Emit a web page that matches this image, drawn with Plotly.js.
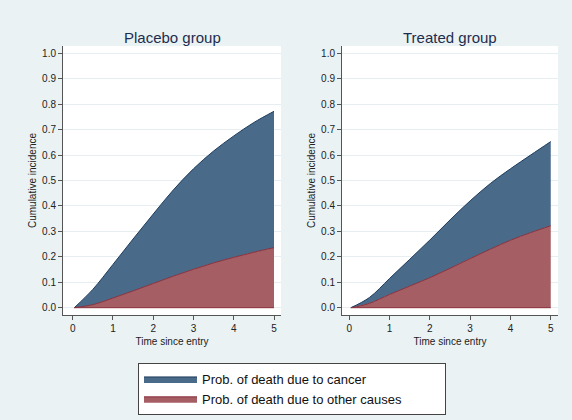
<!DOCTYPE html>
<html>
<head>
<meta charset="utf-8">
<script src="https://cdn.plot.ly/plotly-3.0.1.min.js"></script>
<style>html,body{margin:0;padding:0;background:#eaf2f3;}#chart{width:572px;height:420px;}</style>
</head>
<body>
<div id="chart"></div>
<script>
// Time since entry (years)
const time = [0.04, 0.5, 1, 1.5, 2, 2.5, 3, 3.5, 4, 4.5, 5];

// Placebo group: cumulative incidence of death from other causes, and of death from any cause (cancer stacked on top)
const placeboOther = [0, 0.012, 0.038, 0.066, 0.095, 0.124, 0.151, 0.176, 0.198, 0.218, 0.236];
const placeboTotal = [0, 0.072, 0.17, 0.27, 0.368, 0.463, 0.546, 0.616, 0.675, 0.728, 0.772];

// Treated group
const treatedOther = [0, 0.017, 0.052, 0.085, 0.118, 0.155, 0.193, 0.23, 0.265, 0.295, 0.322];
const treatedTotal = [0, 0.04, 0.115, 0.19, 0.266, 0.345, 0.42, 0.488, 0.546, 0.6, 0.653];

const panelTitles = ["Placebo group", "Treated group"];
const seriesNames = ["Prob. of death due to cancer", "Prob. of death due to other causes"];
const xTitle = "Time since entry";
const yTitle = "Cumulative incidence";
const xTicks = [0, 1, 2, 3, 4, 5];
const yTicks = [0, 0.1, 0.2, 0.3, 0.4, 0.5, 0.6, 0.7, 0.8, 0.9, 1.0];

const blueFill = "#4a6a8a", blueLine = "#1f3d5e";
const redFill = "#a55e64", redLine = "#8a2f3a";
const font = "Liberation Sans, Arial, sans-serif";

function panel(other, total, xa, ya, show) {
  return [
    {x: time, y: other, xaxis: xa, yaxis: ya, type: "scatter", mode: "lines",
     line: {color: redLine, width: 1, shape: "spline", smoothing: 1},
     fill: "tozeroy", fillcolor: redFill, name: seriesNames[1], showlegend: show, legendrank: 2, hoverinfo: "skip"},
    {x: time, y: total, xaxis: xa, yaxis: ya, type: "scatter", mode: "lines",
     line: {color: blueLine, width: 1, shape: "spline", smoothing: 1},
     fill: "tonexty", fillcolor: blueFill, name: seriesNames[0], showlegend: show, legendrank: 1, hoverinfo: "skip"}
  ];
}

const data = [].concat(panel(placeboOther, placeboTotal, "x", "y", true),
                       panel(treatedOther, treatedTotal, "x2", "y2", false));

function xAxis(domain, range, anchor) {
  return {domain: domain, range: range, anchor: anchor, tickvals: xTicks, ticktext: xTicks.map(String),
    ticks: "outside", ticklen: 4, tickcolor: "#555", showline: true, linecolor: "#555", linewidth: 1,
    showgrid: false, zeroline: false, tickfont: {family: font, size: 10, color: "#222"},
    title: {text: xTitle, font: {family: font, size: 10, color: "#222"}, standoff: 4}};
}
function yAxis(domain, anchor) {
  return {domain: domain, range: [-0.0287, 1.0287], anchor: anchor, tickvals: yTicks,
    ticktext: yTicks.map(v => v.toFixed(1)), ticks: "outside", ticklen: 4, tickcolor: "#555",
    showline: true, linecolor: "#555", linewidth: 1, showgrid: true, gridcolor: "#e6eef1", gridwidth: 1,
    zeroline: false, tickfont: {family: font, size: 10, color: "#222"},
    title: {text: yTitle, font: {family: font, size: 10, color: "#222"}, standoff: 3}};
}

const yDom = [1 - 315 / 420, 1 - 46 / 420];
const layout = {
  width: 572, height: 420,
  margin: {l: 0, r: 0, t: 0, b: 0},
  paper_bgcolor: "#eaf2f3", plot_bgcolor: "#ffffff",
  font: {family: font},
  xaxis: xAxis([63 / 572, 281 / 572], [-0.241, 5.174], "y"),
  yaxis: yAxis(yDom, "x"),
  xaxis2: xAxis([342 / 572, 558 / 572], [-0.18, 5.18], "y2"),
  yaxis2: yAxis(yDom, "x2"),
  annotations: [
    {text: panelTitles[0], xref: "x domain", yref: "paper", x: 0.5, y: 1 - 37 / 420, showarrow: false,
     xanchor: "center", yanchor: "middle", font: {family: font, size: 15, color: "#1e2d4e"}},
    {text: panelTitles[1], xref: "x2 domain", yref: "paper", x: 0.5, y: 1 - 37 / 420, showarrow: false,
     xanchor: "center", yanchor: "middle", font: {family: font, size: 15, color: "#1e2d4e"}}
  ],
  shapes: [
    {type: "line", xref: "x", yref: "y", x0: time[0], x1: time[time.length - 1], y0: 0, y1: 0, line: {color: redLine, width: 1}},
    {type: "line", xref: "x2", yref: "y2", x0: time[0], x1: time[time.length - 1], y0: 0, y1: 0, line: {color: redLine, width: 1}}
  ],
  showlegend: true,
  legend: {x: 138 / 572, y: 1 - 363 / 420, xanchor: "left", yanchor: "top", orientation: "h",
    entrywidth: 238, entrywidthmode: "pixels",
    bgcolor: "#ffffff", bordercolor: "#444", borderwidth: 1, itemwidth: 53,
    font: {family: font, size: 13, color: "#111"}, traceorder: "normal"}
};

Plotly.newPlot("chart", data, layout, {staticPlot: true, displayModeBar: false});
</script>
</body>
</html>
